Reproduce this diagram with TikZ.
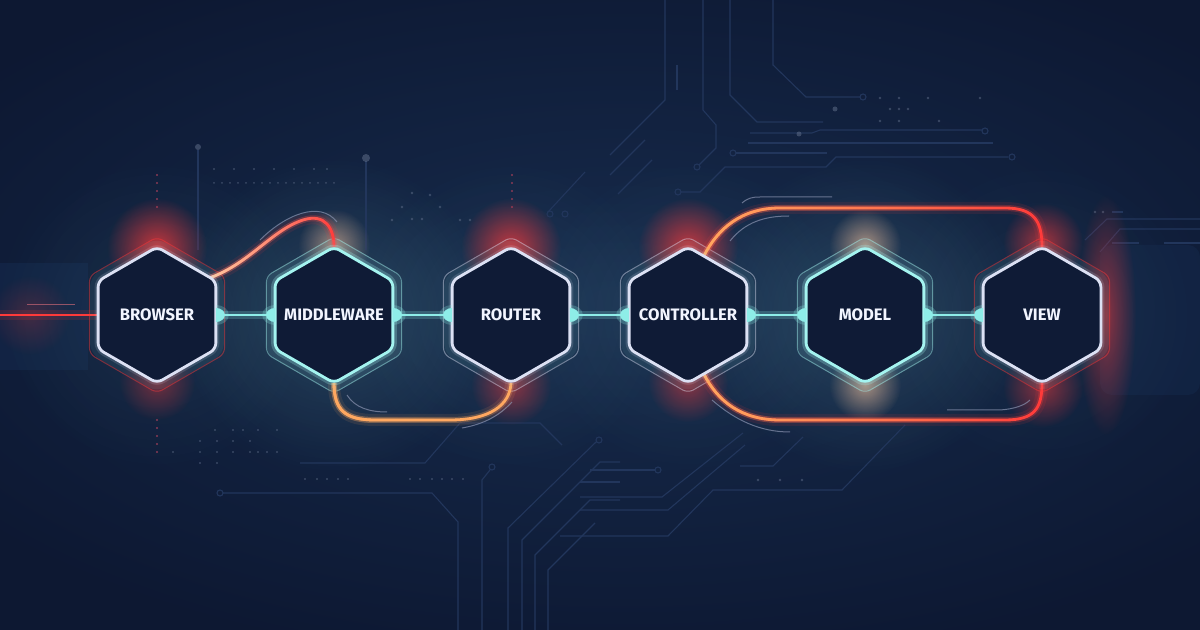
\documentclass[tikz,border=0pt]{standalone}
\usepackage{fontspec}
\setmainfont{Fira Sans}
\usetikzlibrary{shapes.geometric,fadings,calc}
\definecolor{bgc}{HTML}{0D1832}
\definecolor{bglite}{HTML}{1A3154}
\definecolor{trace}{HTML}{22365C}
\definecolor{hexfill}{HTML}{0F1B36}
\definecolor{hexwhite}{HTML}{DCE1F4}
\definecolor{hexcyan}{HTML}{A4F4F0}
\definecolor{conncol}{HTML}{8EEDE8}
\definecolor{glowred}{HTML}{FF3A3A}
\definecolor{glowor}{HTML}{FFA860}
\definecolor{peach}{HTML}{FFC8A0}
\definecolor{txt}{HTML}{F2F5FF}
\definecolor{panel}{HTML}{14294C}
\definecolor{accent}{HTML}{8A93B0}
\definecolor{reddot}{HTML}{8A3A55}
\pgfdeclarelayer{back}
\pgfdeclarelayer{curves}
\pgfdeclarelayer{front}
\pgfsetlayers{back,curves,main,front}
\tikzfading[name=softglow, inner color=transparent!0, outer color=transparent!100]
\newcommand\glowdot[4]{\fill[#3, path fading=softglow, fill opacity=#4] #1 circle (#2);}
\newcommand\neoncurve[3]{%
  \draw[#2, line width=6pt, draw opacity=0.10] #1;
  \draw[#2, line width=3pt, draw opacity=0.25] #1;
  \draw[#2, line width=1.4pt] #1;
  \draw[#3, line width=3pt, draw opacity=0.2, path fading=east] #1;
  \draw[#3, line width=1.4pt, path fading=east] #1;
}
\newcommand\hexring[3]{\draw[#3] (#1) +(90:#2) -- +(30:#2) -- +(-30:#2) -- +(-90:#2) -- +(-150:#2) -- +(150:#2) -- cycle;}
\newcommand\hexlabel[1]{\makebox[0pt][c]{#1}}
\begin{document}
\begin{tikzpicture}[x=0.5pt,y=-0.5pt,
  hexnode/.style={regular polygon, regular polygon sides=6, shape border rotate=30,
    minimum size=68pt, inner sep=0pt, outer sep=0pt, rounded corners=3pt,
    line width=1.4pt, fill=hexfill, text=txt, font=\bfseries\fontsize{8.3}{10}\selectfont},
  whitehex/.style={hexnode, draw=hexwhite,
    preaction={draw=conncol, line width=8pt, draw opacity=0.07},
    preaction={draw=hexwhite, line width=3.5pt, draw opacity=0.15}},
  cyanhex/.style={hexnode, draw=hexcyan,
    preaction={draw=hexcyan, line width=9pt, draw opacity=0.10},
    preaction={draw=hexcyan, line width=4pt, draw opacity=0.25}},
  ring/.style={line width=0.5pt, rounded corners=3pt, draw=#1, draw opacity=0.45},
  tracel/.style={draw=trace, line width=0.55pt},
  conn/.style={draw=conncol, line width=1.3pt, preaction={draw=conncol, line width=4pt, draw opacity=0.22}},
  bump/.style={fill=conncol},
  accentl/.style={draw=accent, line width=0.5pt, draw opacity=0.7},
  tdot/.style={fill=trace!70!white, fill opacity=0.5},
]
\useasboundingbox (0,0) rectangle (1200,630);
% ---------- background ----------
\begin{pgfonlayer}{back}
\fill[bgc] (0,0) rectangle (1200,630);
\fill[bglite, path fading=softglow, fill opacity=0.8] (620,300) ellipse (820 and 380);
\fill[panel, fill opacity=0.6] (0,263) rectangle (88,370);
\fill[panel, fill opacity=0.5, rounded corners=6pt] (1100,245) -- (1200,245) -- (1200,395) -- (1100,395) -- cycle;
\foreach \x/\o in {157/0.08,334/0.16,511/0.08,688/0.08,865/0.16,1042/0.06}
  {\fill[conncol, path fading=softglow, fill opacity=\o] (\x,315) circle (160);}
% circuit traces top
\draw[tracel] (665,0) -- (665,100) -- (610,155);
\draw[tracel] (703,0) -- (703,110) -- (716,125) -- (716,148) -- (699,165);
\draw[tracel] (697,167) circle (3);
\draw[tracel] (730,0) -- (730,95) -- (757,122) -- (823,122);
\draw[tracel] (773,0) -- (773,65) -- (806,97) -- (860,97);
\draw[tracel] (863,97) circle (3);
\draw[tracel] (750,133) -- (812,133) -- (820,130) -- (982,130);
\draw[tracel] (985,131) circle (3);
\draw[tracel] (748,143) -- (993,143);
\draw[tracel] (733,153) circle (3);
\draw[tracel] (736,153) -- (827,153);
\draw[tracel] (678,192) circle (3);
\draw[tracel] (681,192) -- (700,192) -- (725,167) -- (826,167) -- (836,157) -- (1008,157);
\draw[tracel] (1012,157) circle (3);
\draw[tracel] (645,140) -- (610,175);
\draw[tracel] (652,160) -- (618,194);
\draw[tracel] (585,172) -- (548,212);
\draw[tracel] (550,214) circle (3);
\draw[tracel] (565,214) circle (3);
\draw[tracel] (677,65) -- (677,90);
% left verticals
\draw[tracel] (198,150) -- (198,250);
\fill[tdot] (198,147) circle (3);
\draw[tracel] (366,161) -- (366,250);
\fill[tdot] (366,158) circle (4);
% bottom traces
\draw[tracel] (300,463) -- (425,463) -- (460,423) -- (540,423) -- (562,445);
\draw[tracel] (220,493) circle (3);
\draw[tracel] (223,493) -- (432,493) -- (458,522) -- (458,630);
\draw[tracel] (492,467) circle (3);
\draw[tracel] (490,470) -- (482,480) -- (482,630);
\draw[tracel] (508,630) -- (508,528) -- (596,442);
\draw[tracel] (599,440) circle (3);
\draw[tracel] (522,630) -- (522,540) -- (600,462) -- (620,462);
\draw[tracel] (535,630) -- (535,555) -- (590,500) -- (620,500);
\draw[tracel] (548,630) -- (548,570) -- (595,523);
\draw[tracel] (590,470) -- (655,470);
\draw[tracel] (658,470) circle (3);
\draw[tracel] (580,482) -- (620,482);
\draw[tracel] (580,497) -- (662,497) -- (743,433);
\draw[tracel] (580,510) -- (668,510) -- (745,445);
\draw[tracel] (560,536) -- (668,536) -- (713,490) -- (842,490) -- (905,425);
\draw[tracel] (740,466) -- (773,466) -- (803,437);
% right traces
\draw[tracel] (1085,240) -- (1107,219) -- (1200,219);
\draw[tracel] (1100,252) -- (1120,229) -- (1200,229);
\draw[tracel, line width=1pt] (1112,243) -- (1139,243);
\draw[tracel, line width=1pt] (1164,243) -- (1200,243);
\draw[tracel, line width=1pt] (1112,212) -- (1123,212);
% dots
\foreach \x in {214,234,254,274,294,314,327} \fill[tdot] (\x,169) circle (1.2);
\foreach \x in {214,222,...,338} \fill[tdot] (\x,183) circle (1);
\foreach \y in {175,183,191,199,207} {\fill[reddot] (157,\y) circle (1.2); \fill[reddot] (512,\y) circle (1.2);}
\foreach \y in {420,428,436,444,452} \fill[reddot] (157,\y) circle (1.2);
\foreach \p in {(412,193),(430,195),(440,207),(402,207),(392,220),(412,219),(422,219),(460,220),(470,220)} \fill[tdot] \p circle (1.3);
\foreach \p in {(215,430),(233,430),(243,430),(258,430),(277,430),(200,441),(217,441),(233,441),(250,441),(173,452),(200,452),(217,452),(233,452),(250,452),(258,452),(267,452),(277,452),(200,463),(217,463)} \fill[tdot] \p circle (1.1);
\foreach \x in {305,317,327,338,348,410,420,432,442,452,463} \fill[tdot] (\x,479) circle (1.2);
\foreach \x in {758,780,802} \fill[tdot] (\x,480) circle (1.3);
\foreach \p in {(880,98),(899,98),(928,98),(980,98),(890,109),(899,109),(908,109),(880,121),(899,121),(939,121),(1095,212),(1103,212)} \fill[tdot] \p circle (1.3);
\fill[tdot] (835,109) circle (2.5);
\fill[tdot] (799,134) circle (2.5);
% point glows
\glowdot{(157,248)}{50}{glowred}{0.75}
\glowdot{(157,382)}{38}{glowred}{0.4}
\glowdot{(334,245)}{36}{peach}{0.55}
\glowdot{(511,248)}{50}{glowred}{0.75}
\glowdot{(511,385)}{40}{glowred}{0.5}
\glowdot{(688,248)}{50}{glowred}{0.75}
\glowdot{(688,382)}{40}{glowred}{0.5}
\glowdot{(865,245)}{36}{peach}{0.6}
\glowdot{(865,385)}{36}{peach}{0.6}
\glowdot{(1043,243)}{40}{glowred}{0.6}
\glowdot{(1043,387)}{40}{glowred}{0.5}
\fill[glowred, path fading=softglow, fill opacity=0.5] (1106,315) ellipse (30 and 120);
\glowdot{(30,315)}{40}{glowred}{0.2}
\end{pgfonlayer}
% ---------- hexagon nodes ----------
\node[whitehex] (b) at (157,315) {\hexlabel{BROWSER}};
\node[cyanhex]  (m) at (334,315) {\hexlabel{MIDDLEWARE}};
\node[whitehex] (r) at (511,315) {\hexlabel{ROUTER}};
\node[whitehex] (c) at (688,315) {\hexlabel{CONTROLLER}};
\node[cyanhex]  (md) at (865,315) {\hexlabel{MODEL}};
\node[whitehex] (v) at (1042,315) {\hexlabel{VIEW}};
\coordinate (in) at (0,315);
% ---------- curves, rings, accents ----------
\begin{pgfonlayer}{curves}
\hexring{b}{78}{ring=glowred}
\hexring{m}{78}{ring=hexcyan}
\hexring{r}{78}{ring=hexwhite}
\hexring{c}{78}{ring=hexwhite}
\hexring{md}{78}{ring=hexcyan}
\hexring{v}{78}{ring=glowred}
\neoncurve{(b.35) .. controls (250,263) and (272,230) .. (303,220) .. controls (325,213) and (334,228) .. (m.north)}{glowred}{peach}
\neoncurve{(m.south) .. controls (334,410) and (345,420) .. (375,420) -- (450,420) .. controls (490,420) and (510,405) .. (r.south)}{glowor}{glowor}
\neoncurve{(c.75) .. controls (718,228) and (742,208) .. (780,208) -- (1005,208) .. controls (1035,208) and (1042,222) .. (v.north)}{glowred}{glowor}
\neoncurve{(c.-75) .. controls (718,402) and (742,420) .. (780,420) -- (1005,420) .. controls (1035,420) and (1042,408) .. (v.south)}{glowred}{glowor}
\draw[glowred, line width=5pt, draw opacity=0.12] (in) -- (b.west);
\draw[glowred, line width=1.3pt] (in) -- (b.west);
\draw[accentl, draw=glowred!50!accent] (27,305) -- (75,305);
\draw[accentl] (260,240) .. controls (285,215) and (320,200) .. (337,222);
\draw[accentl] (347,395) .. controls (355,408) and (370,412) .. (387,412);
\draw[accentl] (462,428) .. controls (485,424) and (500,415) .. (512,402);
\draw[accentl] (730,241) .. controls (745,222) and (765,216) .. (789,216);
\draw[accentl] (742,203) .. controls (748,198) and (752,197) .. (760,197) -- (832,197);
\draw[accentl] (712,400) .. controls (735,420) and (760,432) .. (790,432);
\draw[accentl] (947,410) -- (1000,410) .. controls (1015,409) and (1025,405) .. (1030,400);
\end{pgfonlayer}
% ---------- connectors ----------
\begin{pgfonlayer}{front}
\foreach \a/\z in {b/m,m/r,r/c,c/md,md/v}{
  \draw[conn] (\a.east) -- (\z.west);
  \fill[conncol, opacity=0.25] (\a.east) ++(0,-10) arc[start angle=-90, end angle=90, x radius=13, y radius=10];
  \fill[bump] (\a.east) ++(0,-7) arc[start angle=-90, end angle=90, x radius=9, y radius=7];
  \fill[conncol, opacity=0.25] (\z.west) ++(0,-10) arc[start angle=-90, end angle=-270, x radius=13, y radius=10];
  \fill[bump] (\z.west) ++(0,-7) arc[start angle=-90, end angle=-270, x radius=9, y radius=7];
}
\end{pgfonlayer}
\end{tikzpicture}
\end{document}
